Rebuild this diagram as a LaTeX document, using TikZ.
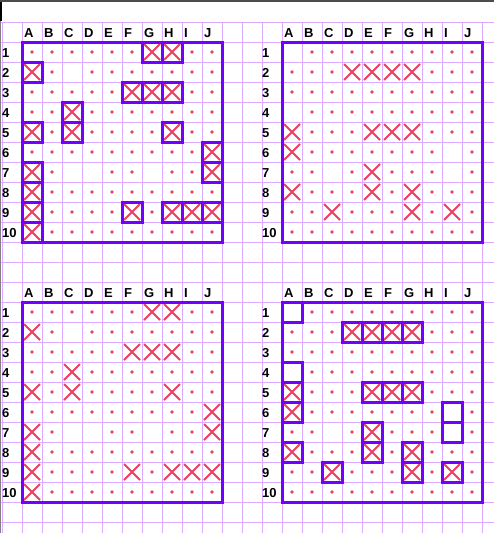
\documentclass[tikz,border=0pt]{standalone}
\usepackage{fontspec}
\setmainfont{Liberation Sans}
\usepackage{tikz}

\definecolor{gridline}{RGB}{222,170,255}
\definecolor{shipline}{RGB}{112,0,255}
\definecolor{shot}{RGB}{235,64,96}

% misses per row: row/{columns}
\newcommand{\missesL}{1/{1,2,3,4,5,6,9,10}, 2/{2,4,5,6,7,8,9,10}, 3/{1,2,3,4,5,9,10},
  4/{1,2,4,5,6,7,8,9,10}, 5/{2,4,5,6,7,9,10}, 6/{1,2,3,4,5,6,7,8,9}, 7/{2,5,6,8,9},
  8/{2,3,4,5,6,7,8,9,10}, 9/{2,3,4,5,7}, 10/{2,3,4,5,6,7,8,9,10}}
\newcommand{\hitsL}{7/1,8/1,1/2,6/3,7/3,8/3,3/4,1/5,3/5,8/5,10/6,1/7,10/7,1/8,1/9,6/9,8/9,9/9,10/9,1/10}
\newcommand{\missesR}{1/{2,3,4,5,6,7,8,9,10}, 2/{1,2,3,8,9,10}, 3/{1,2,3,4,5,6,7,8,9,10},
  4/{2,3,4,5,6,7,8,9,10}, 5/{2,3,4,8,9,10}, 6/{2,3,4,5,6,7,8,10}, 7/{1,2,4,6,7,8,10},
  8/{2,3,4,6,8,9,10}, 9/{1,2,4,5,6,8,10}, 10/{1,2,3,4,5,6,7,8,9,10}}
\newcommand{\hitsR}{4/2,5/2,6/2,7/2,1/5,5/5,6/5,7/5,1/6,5/7,1/8,5/8,7/8,3/9,7/9,9/9}

\begin{document}
\begin{tikzpicture}[x=1pt, y=-1pt,
    gridln/.style = {draw=gridline, line width=1pt},
    boardframe/.style = {draw=shipline, line width=3pt},
    shipbox/.style = {draw=shipline, line width=3pt},
    hit/.style = {draw=shot, line width=1.8pt},
    miss/.style = {fill=shot},
    lbl/.style = {font=\bfseries\fontsize{13}{13}\selectfont, inner sep=0pt, anchor=base west}]

    \useasboundingbox (0,0) rectangle (494,533);
    \fill[white] (0,0) rectangle (494,533);

    % paper grid
    \foreach \i in {0,...,24} \draw[gridln] (2+20*\i,22) -- (2+20*\i,533);
    \foreach \j in {0,...,25} \draw[gridln] (0,22+20*\j) -- (494,22+20*\j);

    % window edge
    \draw[gray!60!black, line width=1.5pt] (0,0.75) -- (494,0.75);
    \draw[black, line width=2pt] (1,2) -- (1,21);
    \draw[gray, line width=0.8pt] (0.4,21) -- (0.4,533);

    % headings
    \foreach \b/\ox/\oy in {1/22/42, 2/282/42, 3/22/302, 4/282/302} {
        \foreach \l [count=\i from 0] in {A,B,C,D,E,F,G,H,I,J}
            \node[lbl] (h\b\l) at (\ox+20*\i+2, \oy-5) {\l};
        \foreach \n in {1,...,10}
            \node[lbl] (r\b-\n) at (\ox-20, \oy+20*\n-5) {\n};
    }

    % own fleet, marked
    \begin{scope}[shift={(22,42)}]
        \foreach \r/\cl in \missesL \foreach \c in \cl \fill[miss] (20*\c-10,20*\r-10) circle (1.9);
        \foreach \c/\r in \hitsL \draw[hit] (20*\c-18,20*\r-18) -- ++(16,16) (20*\c-2,20*\r-18) -- ++(-16,16);
        \foreach \c/\r in \hitsL \draw[shipbox] (20*\c-20,20*\r-20) rectangle ++(20,20);
        \draw[boardframe] (0,0) rectangle (200,200);
    \end{scope}

    % enemy, shots only
    \begin{scope}[shift={(282,42)}]
        \foreach \r/\cl in \missesR \foreach \c in \cl \fill[miss] (20*\c-10,20*\r-10) circle (1.9);
        \foreach \c/\r in \hitsR \draw[hit] (20*\c-18,20*\r-18) -- ++(16,16) (20*\c-2,20*\r-18) -- ++(-16,16);
        \draw[boardframe] (0,0) rectangle (200,200);
    \end{scope}

    % own fleet, shots only
    \begin{scope}[shift={(22,302)}]
        \foreach \r/\cl in \missesL \foreach \c in \cl \fill[miss] (20*\c-10,20*\r-10) circle (1.9);
        \foreach \c/\r in \hitsL \draw[hit] (20*\c-18,20*\r-18) -- ++(16,16) (20*\c-2,20*\r-18) -- ++(-16,16);
        \draw[boardframe] (0,0) rectangle (200,200);
    \end{scope}

    % enemy, marked
    \begin{scope}[shift={(282,302)}]
        \foreach \r/\cl in \missesR \foreach \c in \cl \fill[miss] (20*\c-10,20*\r-10) circle (1.9);
        \foreach \c/\r in \hitsR \draw[hit] (20*\c-18,20*\r-18) -- ++(16,16) (20*\c-2,20*\r-18) -- ++(-16,16);
        \foreach \c/\r in \hitsR \draw[shipbox] (20*\c-20,20*\r-20) rectangle ++(20,20);
        \foreach \c/\r in {1/1,1/4,9/6,9/7} \draw[shipbox] (20*\c-20,20*\r-20) rectangle ++(20,20);
        \draw[boardframe] (0,0) rectangle (200,200);
    \end{scope}
\end{tikzpicture}
\end{document}
